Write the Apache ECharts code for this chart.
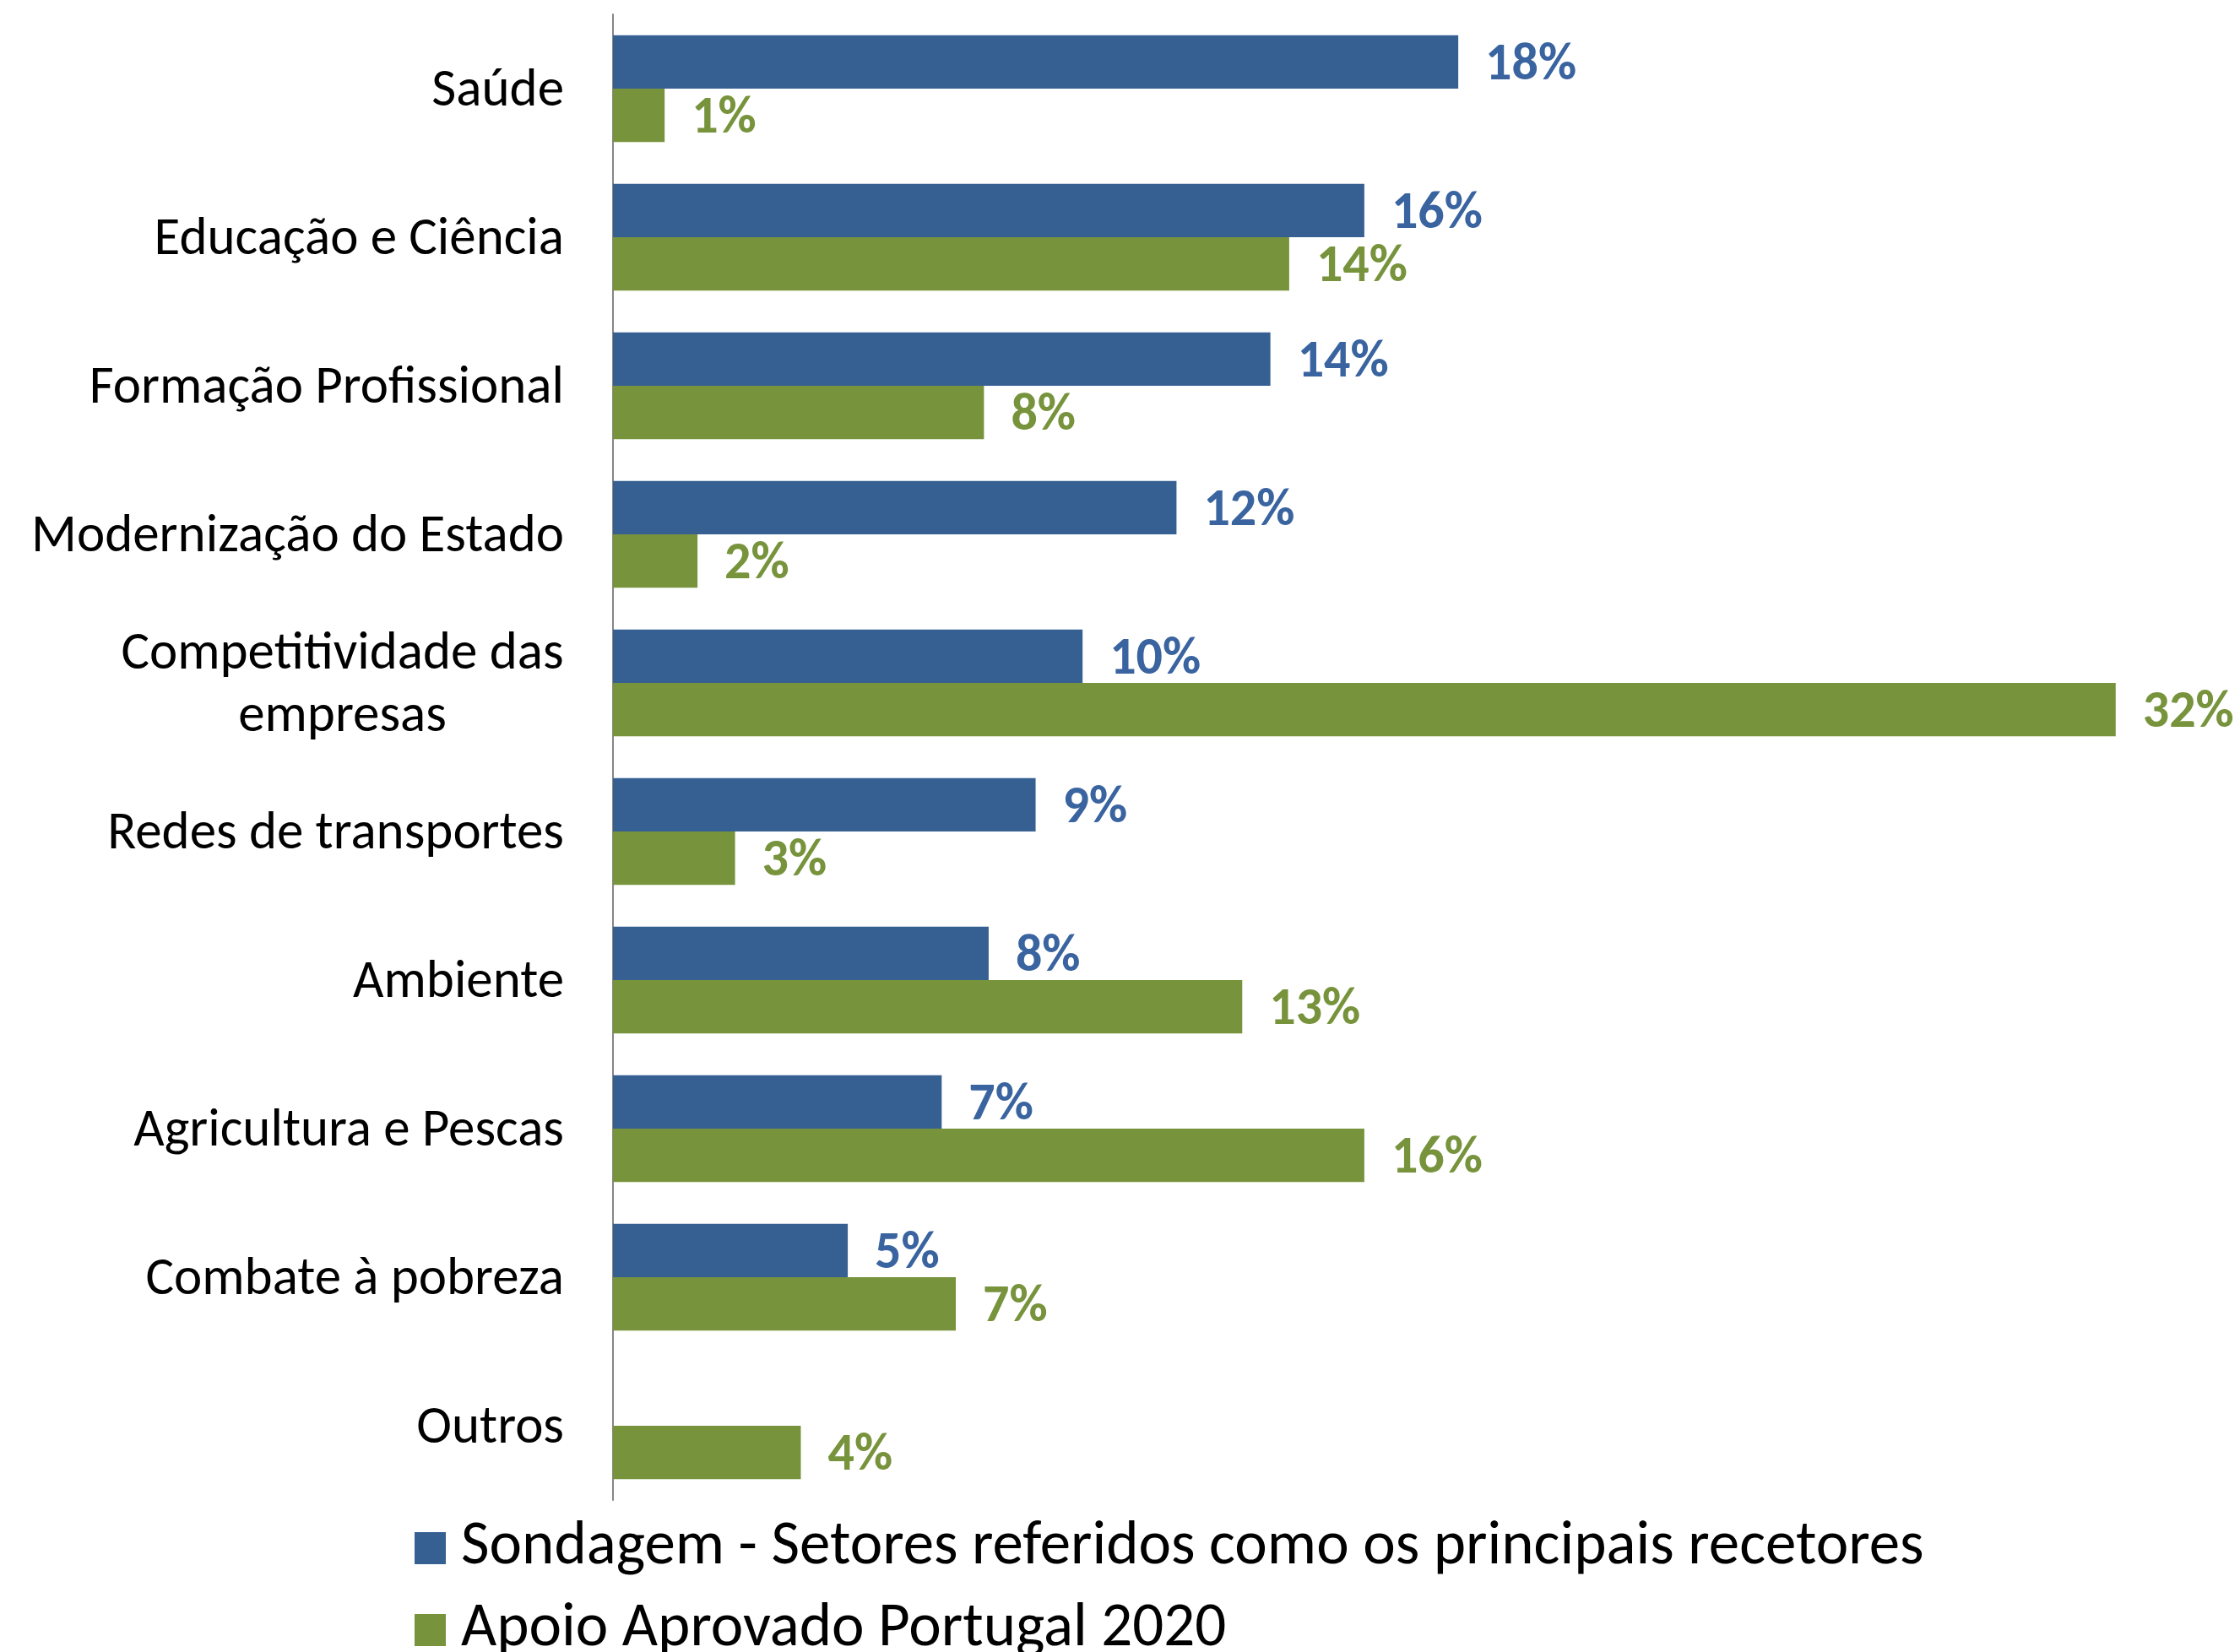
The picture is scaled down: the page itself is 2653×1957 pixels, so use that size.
<!DOCTYPE html>
<html>
<head>
<meta charset="utf-8">
<script src="https://cdn.jsdelivr.net/npm/echarts@6/dist/echarts.min.js"></script>
<style>
  html, body { margin: 0; padding: 0; background: #fff; }
  #chart { width: 2653px; height: 1957px; }
</style>
</head>
<body>
<div id="chart"></div>
<script>
// sectors, top to bottom
var categories = ['Saúde', 'Educação e Ciência', 'Formação Profissional', 'Modernização do Estado',
  'Competitividade das\nempresas', 'Redes de transportes', 'Ambiente', 'Agricultura e Pescas',
  'Combate à pobreza', 'Outros'];
// Sondagem - setores referidos (%)
var sondagem = [18, 16, 14, 12, 10, 9, 8, 7, 5, null];
// Apoio aprovado Portugal 2020 (%)
var apoio = [1.1, 14.4, 7.9, 1.8, 32.0, 2.6, 13.4, 16.0, 7.3, 4.0];
var seriesNames = ['Sondagem - Setores referidos como os principais recetores', 'Apoio Aprovado Portugal 2020'];

var FONT = 'Carlito, Lato, sans-serif';
var BLUE = '#376092', GREEN = '#77933C';
var CAT_SIZE = 63;

// width of first line of the two-line label, so both lines can be centred
var ctx = document.createElement('canvas').getContext('2d');
ctx.font = CAT_SIZE + 'px ' + FONT;
var wrapW = Math.ceil(ctx.measureText('Competitividade das').width);

var chart = echarts.init(document.getElementById('chart'));

function pct(p) { return Math.round(p.value) + '%'; }

chart.setOption({
  animation: false,
  grid: { left: 726, top: 17, bottom: 180, width: 1891 },
  xAxis: {
    type: 'value', min: 0, max: 34, show: false,
    splitLine: { show: false }
  },
  yAxis: {
    type: 'category', inverse: true, data: categories,
    axisLine: { show: true, lineStyle: { color: '#868686', width: 2 } },
    axisTick: { show: false },
    axisLabel: {
      margin: 58, color: '#000', fontFamily: FONT, fontSize: CAT_SIZE, lineHeight: 74,
      padding: [8, 0, 0, 0],
      formatter: function (v) {
        if (v.indexOf('\n') >= 0) return '{w|' + v + '}';
        return v;
      },
      rich: { w: { width: wrapW, align: 'center', fontFamily: FONT, fontSize: CAT_SIZE, lineHeight: 74, color: '#000' } }
    }
  },
  legend: {
    orient: 'vertical', left: 486, top: 1792, height: 400, icon: 'rect',
    itemWidth: 37, itemHeight: 38, itemGap: 23,
    textStyle: { fontFamily: FONT, fontSize: 73, color: '#000', padding: [0, 0, 0, 13], lineHeight: 74 },
    data: seriesNames
  },
  series: [
    {
      name: seriesNames[0], type: 'bar', data: sondagem,
      barGap: '0%', barCategoryGap: '28%',
      itemStyle: { color: BLUE },
      label: { show: true, position: 'right', distance: 32, offset: [0, 5], formatter: pct,
        fontFamily: FONT, fontSize: 62, fontWeight: 'bold', color: '#3A64A0' }
    },
    {
      name: seriesNames[1], type: 'bar', data: apoio,
      barGap: '0%', barCategoryGap: '28%',
      itemStyle: { color: GREEN },
      label: { show: true, position: 'right', distance: 32, offset: [0, 5], formatter: pct,
        fontFamily: FONT, fontSize: 62, fontWeight: 'bold', color: GREEN }
    }
  ]
});
</script>
</body>
</html>
